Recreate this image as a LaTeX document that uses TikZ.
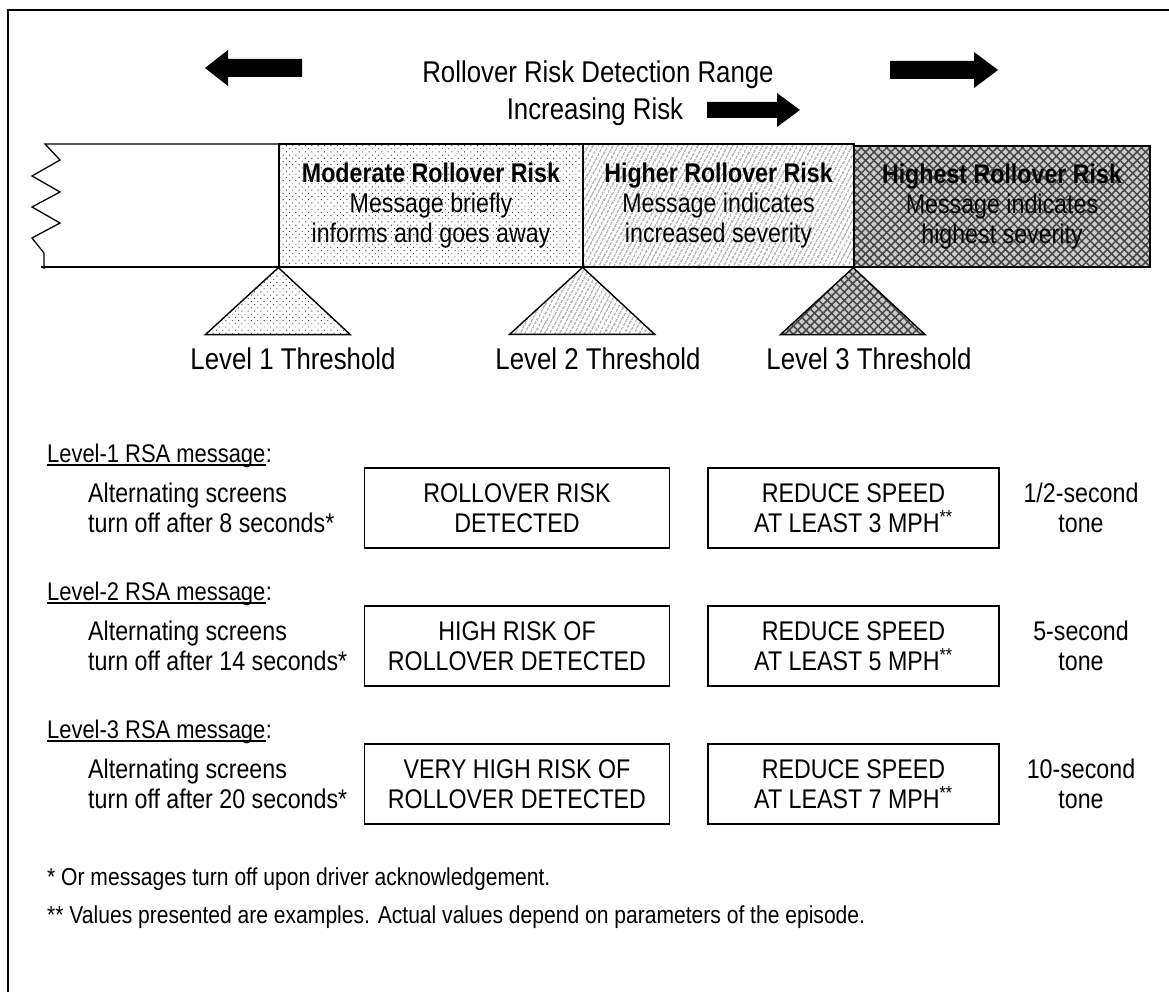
\documentclass[tikz,border=0pt]{standalone}
\usepackage{fontspec}
\setmainfont{Liberation Sans}[FakeStretch=0.86]
\usetikzlibrary{patterns.meta}
\newcommand{\fs}[1]{\fontsize{#1}{#1}\selectfont}
\begin{document}
\begin{tikzpicture}[x=1pt,y=-1pt,
  txt/.style={inner sep=0pt, align=center, font=\fontsize{27}{30}\selectfont},
  big/.style={inner sep=0pt, font=\fs{30}},
  zone/.style={draw, line width=1.3pt, minimum height=123pt, inner sep=0pt, align=center,
     font=\fontsize{27}{30}\selectfont},
  dotfill/.style={pattern={Dots[distance=4.5pt, radius=0.65pt, angle=45]}, pattern color=black!80},
  linefill/.style={pattern={Lines[angle=62, distance=4pt, line width=0.7pt]}, pattern color=black!80},
  hatchfill/.style={preaction={fill=black!20}, pattern={Hatch[angle=45, distance=6pt, line width=1.5pt]}, pattern color=black!72},
  msgbox/.style={draw, line width=1.1pt, minimum height=80pt, inner sep=0pt, align=center,
     font=\fontsize{27}{30}\selectfont},
  side/.style={inner sep=0pt, align=left, font=\fontsize{27}{30}\selectfont},
  head/.style={inner sep=0pt, anchor=base west, font=\fs{25.5}},
  ul/.style={line width=1.2pt},
  note/.style={inner sep=0pt, anchor=west, font=\fs{24.5}}
]
\useasboundingbox (0,0) rectangle (1169,992);
% frame
\draw[line width=1.6pt] (8,992) -- (8,10) -- (1169,10);

% big arrows
\fill (205,68) -- (228,50) -- (228,59) -- (302,59) -- (302,77) -- (228,77) -- (228,86) -- cycle;
\fill (998,70) -- (974,52) -- (974,61) -- (890,61) -- (890,79) -- (974,79) -- (974,88) -- cycle;
\fill (800,110) -- (777,93) -- (777,102) -- (707,102) -- (707,118) -- (777,118) -- (777,127) -- cycle;

% titles
\node[big] (title) at (598,75) {Rollover Risk Detection Range};
\node[big] (incr) at (595,112) {Increasing Risk};

% bar: open left part
\draw[line width=1.3pt, line join=miter] (279,144) -- (45,144) -- (60,160) -- (32,176) -- (60,192) -- (32,207)
   -- (60,223) -- (32,238) -- (44,253) -- (44,269);
\draw[line width=1.3pt] (41,267) -- (279,267);

% zones
\node[zone, dotfill, minimum width=304pt] (mod) at (431,205.5)
   {\textbf{Moderate Rollover Risk}\\Message briefly\\informs and goes away};
\node[zone, linefill, minimum width=271pt] (hig) at (718.5,205.5)
   {\textbf{Higher Rollover Risk}\\Message indicates\\increased severity};
\node[zone, hatchfill, minimum width=296pt, minimum height=121pt] (hst) at (1002,206.5)
   {\textbf{Highest Rollover Risk}\\Message indicates\\highest severity};

% thresholds
\draw[line width=1.4pt, dotfill] (mod.south west) -- ++(72,67) -- ++(-145,0) -- cycle;
\draw[line width=1.4pt, linefill] (hig.south west) -- ++(72,67) -- ++(-145,0) -- cycle;
\draw[line width=1.4pt, hatchfill] (hst.south west) -- ++(72,67) -- ++(-145,0) -- cycle;
\node[big] (t1) at (293,359) {Level 1 Threshold};
\node[big] (t2) at (598,359) {Level 2 Threshold};
\node[big] (t3) at (869,359) {Level 3 Threshold};

% Level 1
\node[head] (h1) at (47,462) {Level-1 RSA message};
\node[head] (h1c) at (h1.base east) {:};
\draw[ul] ([yshift=-3pt]h1.base west) -- ([yshift=-3pt]h1.base east);
\node[side, anchor=west] (s1) at (88,508) {Alternating screens\\turn off after 8 seconds*};
\node[msgbox, minimum width=305pt] (a1) at (517,508) {ROLLOVER RISK\\DETECTED};
\node[msgbox, minimum width=291pt] (b1) at (853.5,508) {REDUCE SPEED\\AT LEAST 3 MPH\textsuperscript{**}};
\node[txt] (c1) at (1081,508) {1/2-second\\tone};

% Level 2
\node[head] (h2) at (47,600) {Level-2 RSA message};
\node[head] (h2c) at (h2.base east) {:};
\draw[ul] ([yshift=-3pt]h2.base west) -- ([yshift=-3pt]h2.base east);
\node[side, anchor=west] (s2) at (88,646) {Alternating screens\\turn off after 14 seconds*};
\node[msgbox, minimum width=305pt] (a2) at (517,646) {HIGH RISK OF\\ROLLOVER DETECTED};
\node[msgbox, minimum width=291pt] (b2) at (853.5,646) {REDUCE SPEED\\AT LEAST 5 MPH\textsuperscript{**}};
\node[txt] (c2) at (1081,646) {5-second\\tone};

% Level 3
\node[head] (h3) at (47,738) {Level-3 RSA message};
\node[head] (h3c) at (h3.base east) {:};
\draw[ul] ([yshift=-3pt]h3.base west) -- ([yshift=-3pt]h3.base east);
\node[side, anchor=west] (s3) at (88,784) {Alternating screens\\turn off after 20 seconds*};
\node[msgbox, minimum width=305pt] (a3) at (517,784) {VERY HIGH RISK OF\\ROLLOVER DETECTED};
\node[msgbox, minimum width=291pt] (b3) at (853.5,784) {REDUCE SPEED\\AT LEAST 7 MPH\textsuperscript{**}};
\node[txt] (c3) at (1081,784) {10-second\\tone};

% footnotes
\node[note] (n1) at (47,879) {* Or messages turn off upon driver acknowledgement.};
\node[note] (n2) at (47,917) {** Values presented are examples. Actual values depend on parameters of the episode.};
\end{tikzpicture}
\end{document}
